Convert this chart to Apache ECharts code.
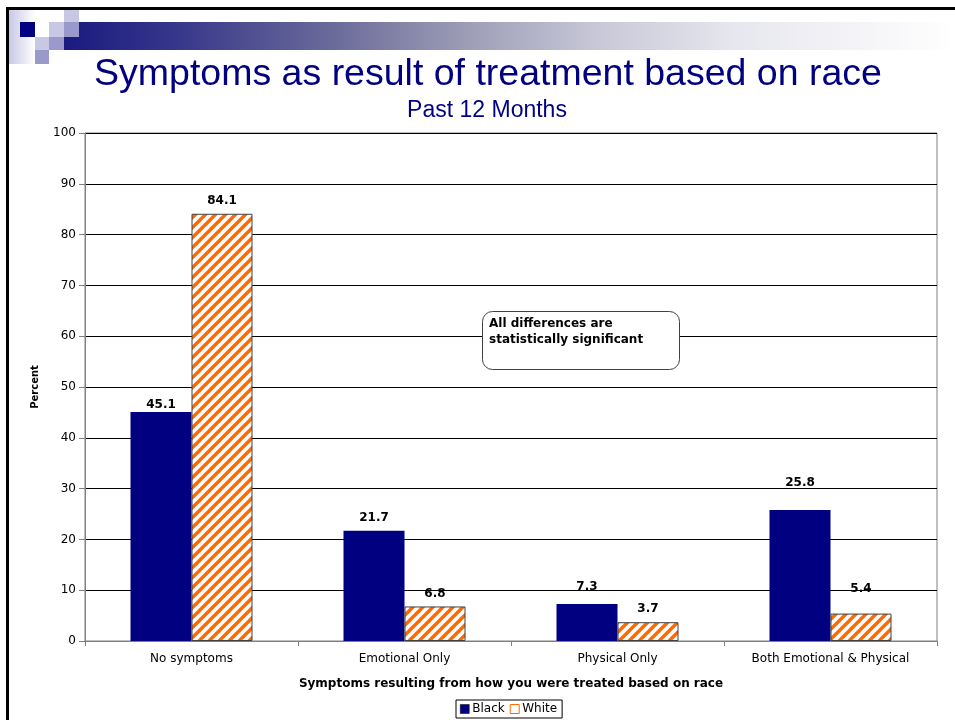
<!DOCTYPE html>
<html><head><meta charset="utf-8">
<script src="https://cdn.jsdelivr.net/npm/echarts@6/dist/echarts.min.js"></script>
<style>html,body{margin:0;padding:0;background:#fff}#c{width:955px;height:720px}</style>
</head><body><div id="c"></div>
<script>
// ---- data ----
const categories = ['No symptoms', 'Emotional Only', 'Physical Only', 'Both Emotional & Physical'];
const blackValues = [45.1, 21.7, 7.3, 25.8];
const whiteValues = [84.1, 6.8, 3.7, 5.4];
const seriesNames = ['Black', 'White'];
const titleText = 'Symptoms as result of treatment based on race';
const subtitleText = 'Past 12 Months';
const xAxisTitle = 'Symptoms resulting from how you were treated based on race';
const yAxisTitle = 'Percent';
const noteLines = ['All differences are', 'statistically significant'];

// ---- styling ----
const NAVY = '#000080';
const ORANGE = '#ff6a00';
const FONT = 'DejaVu Sans';
const blackLabelShift = [6, 0, -4, -14];
const whiteLabelShift = [0, 0, 0, -12];

const T = 10;
const pc = document.createElement('canvas');
pc.width = T; pc.height = T;
const g = pc.getContext('2d');
g.fillStyle = '#ffffff'; g.fillRect(0, 0, T, T);
g.strokeStyle = ORANGE; g.lineWidth = 3.4;
for (const k of [-T, 0, T]) {
  g.beginPath(); g.moveTo(k - 5, T + 5); g.lineTo(k + T + 5, -5); g.stroke();
}

const labelBase = {show: true, position: 'top', distance: 7, color: '#000', fontFamily: FONT, fontWeight: 'bold', fontSize: 12};
const mkData = (vals, shifts) => vals.map((v, i) => ({value: v, label: {offset: [0, shifts[i]]}}));

const chart = echarts.init(document.getElementById('c'), null, {renderer: 'canvas'});
const option = {
  animation: false,
  backgroundColor: '#fff',
  grid: {left: 85, right: 18, top: 133, bottom: 79, show: true, borderColor: '#808080', borderWidth: 1, backgroundColor: 'transparent'},
  legend: {
    left: 456, top: 700, orient: 'horizontal',
    padding: [3, 5, 3, 4], itemGap: 5, itemWidth: 9, itemHeight: 9,
    borderColor: '#000', borderWidth: 1, borderRadius: 0,
    textStyle: {fontFamily: FONT, fontSize: 12, color: '#000', padding: [0, 0, 0, -2]},
    data: [
      {name: seriesNames[0], icon: 'rect', itemStyle: {color: NAVY, borderColor: '#000', borderWidth: 0.5}},
      {name: seriesNames[1], icon: 'rect', itemStyle: {color: '#fff', borderColor: ORANGE, borderWidth: 1}}
    ]
  },
  xAxis: {
    type: 'category', data: categories,
    name: xAxisTitle, nameLocation: 'middle', nameGap: 37,
    nameTextStyle: {fontFamily: FONT, fontWeight: 'bold', fontSize: 12, color: '#000'},
    axisLine: {show: true, lineStyle: {color: '#808080', width: 1}},
    axisTick: {show: true, length: 5, lineStyle: {color: '#808080'}},
    axisLabel: {fontFamily: FONT, fontSize: 12, color: '#000', margin: 12}
  },
  yAxis: {
    type: 'value', min: 0, max: 100, interval: 10,
    name: yAxisTitle, nameLocation: 'middle', nameGap: 45, nameRotate: 90,
    nameTextStyle: {fontFamily: FONT, fontWeight: 'bold', fontSize: 10, color: '#000'},
    axisLine: {show: true, lineStyle: {color: '#808080', width: 1}},
    axisTick: {show: true, length: 6, lineStyle: {color: '#808080'}},
    axisLabel: {fontFamily: FONT, fontSize: 12, color: '#000', margin: 9},
    splitLine: {show: true, lineStyle: {color: '#000', width: 1}}
  },
  series: [
    {
      name: seriesNames[0], type: 'bar', data: mkData(blackValues, blackLabelShift),
      barWidth: 61, barGap: '0%',
      itemStyle: {color: NAVY},
      label: labelBase
    },
    {
      name: seriesNames[1], type: 'bar', data: mkData(whiteValues, whiteLabelShift),
      barWidth: 61, barGap: '0%',
      itemStyle: {color: {image: pc, repeat: 'repeat'}, borderColor: '#404040', borderWidth: 1},
      label: labelBase
    }
  ],
  graphic: [
    // slide frame
    {type: 'rect', shape: {x: 6, y: 7, width: 949, height: 3}, style: {fill: '#000'}, z: 100},
    {type: 'rect', shape: {x: 6, y: 7, width: 3, height: 713}, style: {fill: '#000'}, z: 100},
    // decorative strip
    {type: 'rect', shape: {x: 9, y: 10, width: 26, height: 54}, style: {fill: {type: 'linear', x: 0, y: 0, x2: 1, y2: 0, colorStops: [{offset: 0, color: '#c8c8e6'}, {offset: 1, color: '#ffffff'}]}}, z: 90},
    {type: 'rect', shape: {x: 64, y: 22, width: 891, height: 28}, style: {fill: {type: 'linear', x: 0, y: 0, x2: 1, y2: 0, colorStops: [
      {offset: 0, color: '#1a1a80'}, {offset: 0.12, color: '#35358a'}, {offset: 0.3, color: '#6a6a9a'}, {offset: 0.45, color: '#9c9cb6'},
      {offset: 0.6, color: '#c8c8d8'}, {offset: 0.75, color: '#e6e6ee'}, {offset: 1, color: '#ffffff'}]}}, z: 90},
    {type: 'rect', shape: {x: 20, y: 22, width: 15, height: 15}, style: {fill: '#000080'}, z: 91},
    {type: 'rect', shape: {x: 49, y: 22, width: 15, height: 15}, style: {fill: '#c8c8e4'}, z: 91},
    {type: 'rect', shape: {x: 64, y: 10, width: 15, height: 12}, style: {fill: '#c8c8e4'}, z: 91},
    {type: 'rect', shape: {x: 64, y: 22, width: 15, height: 15}, style: {fill: '#9999cc'}, z: 91},
    {type: 'rect', shape: {x: 35, y: 37, width: 14, height: 13}, style: {fill: '#c8c8e4'}, z: 91},
    {type: 'rect', shape: {x: 49, y: 37, width: 15, height: 13}, style: {fill: '#9999cc'}, z: 91},
    {type: 'rect', shape: {x: 35, y: 50, width: 14, height: 14}, style: {fill: '#9999cc'}, z: 91},
    // titles
    {type: 'text', x: 488, y: 75, style: {text: titleText, fill: NAVY, font: '37.5px "Liberation Sans", Arial, sans-serif', textAlign: 'center', textVerticalAlign: 'middle'}, z: 95},
    {type: 'text', x: 487, y: 111, style: {text: subtitleText, fill: NAVY, font: '23px "Liberation Sans", Arial, sans-serif', textAlign: 'center', textVerticalAlign: 'middle'}, z: 95},
    // note box
    {type: 'rect', shape: {x: 482.5, y: 311.5, width: 197, height: 58, r: 10}, style: {fill: '#fff', stroke: '#404040', lineWidth: 1}, z: 50},
    {type: 'text', x: 489, y: 316, style: {text: noteLines.join('\n'), fill: '#000', font: 'bold 12px "DejaVu Sans"', lineHeight: 16}, z: 51}
  ]
};
chart.setOption(option);
</script>
</body></html>
